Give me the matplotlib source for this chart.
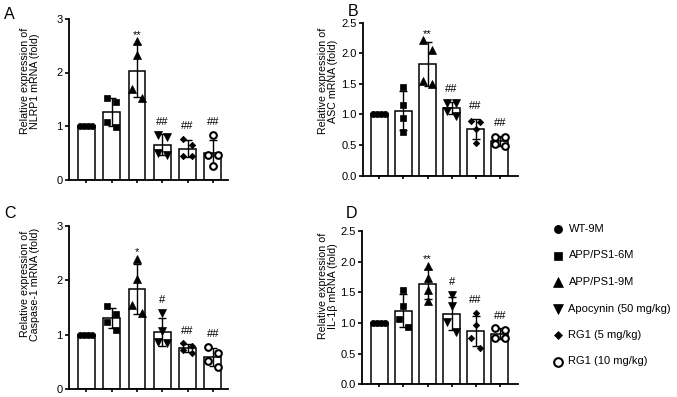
import numpy as np
import matplotlib
matplotlib.use("Agg")
import matplotlib.pyplot as plt
from matplotlib.lines import Line2D

plt.rcParams['font.family'] = ['Liberation Sans', 'DejaVu Sans']

# ---------------- data ----------------
groups = ["WT-9M", "APP/PS1-6M", "APP/PS1-9M", "Apocynin (50 mg/kg)",
          "RG1 (5 mg/kg)", "RG1 (10 mg/kg)"]

nlrp1 = [[1.0, 1.0, 1.0, 1.0],
         [1.52, 1.45, 1.08, 0.99],
         [2.58, 2.33, 1.70, 1.53],
         [0.83, 0.80, 0.50, 0.46],
         [0.76, 0.65, 0.44, 0.44],
         [0.83, 0.46, 0.45, 0.26]]
asc = [[1.0, 1.0, 1.0, 1.0],
       [1.45, 1.155, 0.94, 0.71],
       [2.21, 2.06, 1.54, 1.50],
       [1.19, 1.18, 1.06, 0.98],
       [0.89, 0.87, 0.77, 0.54],
       [0.64, 0.63, 0.52, 0.48]]
casp1 = [[1.0, 1.0, 1.0, 1.0],
         [1.52, 1.38, 1.24, 1.09],
         [2.39, 2.02, 1.55, 1.39],
         [1.40, 1.07, 0.86, 0.85],
         [0.84, 0.79, 0.72, 0.67],
         [0.78, 0.67, 0.51, 0.41]]
il1b = [[1.0, 1.0, 1.0, 1.0],
        [1.54, 1.27, 1.065, 0.93],
        [1.935, 1.73, 1.53, 1.36],
        [1.46, 1.28, 1.01, 0.86],
        [1.17, 0.96, 0.75, 0.60],
        [0.91, 0.89, 0.76, 0.75]]

sig_a = ["", "", "**", "##", "##", "##"]
sig_b = ["", "", "**", "##", "##", "##"]
sig_c = ["", "", "*", "#", "##", "##"]
sig_d = ["", "", "**", "#", "##", "##"]

ylabels = ["Relative expression of\nNLRP1 mRNA (fold)",
           "Relative expression of\nASC mRNA (fold)",
           "Relative expression of\nCaspase-1 mRNA (fold)",
           "Relative expression of\nIL-1\u03b2 mRNA (fold)"]
yticks_a = [0, 1, 2, 3]
yticks_b = [0.0, 0.5, 1.0, 1.5, 2.0, 2.5]
yticks_c = [0, 1, 2, 3]
yticks_d = [0.0, 0.5, 1.0, 1.5, 2.0, 2.5]
panel_letters = ["A", "B", "C", "D"]

# ---------------- styles ----------------
markers = [dict(marker='o', ms=4.5, mfc='black', mec='black', mew=0.5),
           dict(marker='s', ms=4.9, mfc='black', mec='black', mew=0.5),
           dict(marker='^', ms=5.3, mfc='black', mec='black', mew=0.5),
           dict(marker='v', ms=5.3, mfc='black', mec='black', mew=0.5),
           dict(marker='D', ms=3.3, mfc='black', mec='black', mew=0.5),
           dict(marker='o', ms=4.8, mfc='white', mec='black', mew=1.5)]

W, H = 677, 397
fig = plt.figure(figsize=(W / 100, H / 100), dpi=100)

FS = 8


def px_axes(left, right, top, bottom):
    return fig.add_axes([left / W, 1 - bottom / H, (right - left) / W, (bottom - top) / H])


def swarm_offsets(vals, ppu, thr=9.6, pair_px=4.7, row_px=4.0):
    vals = np.asarray(vals, float)
    n = len(vals)
    off = np.zeros(n)
    if (vals.max() - vals.min()) * ppu < 1.0:
        return (np.arange(n) - (n - 1) / 2) * row_px
    order = np.argsort(-vals, kind='stable')
    clusters = []
    cur = [order[0]]
    for prev, idx in zip(order[:-1], order[1:]):
        if (vals[prev] - vals[idx]) * ppu < thr:
            cur.append(idx)
        else:
            clusters.append(cur)
            cur = [idx]
    clusters.append(cur)
    for c in clusters:
        for k in range(0, len(c) - 1, 2):
            off[c[k]] = -pair_px
            off[c[k + 1]] = pair_px
    return off


def draw_panel(ax, data, sig, yticks, ymax, first_center_px, spacing_px, left_px, right_px,
               top_px, bottom_px):
    n = len(data)
    x = np.arange(n)
    xl = (left_px - first_center_px) / spacing_px
    xr = (right_px - first_center_px) / spacing_px
    ax.set_xlim(xl, xr)
    ax.set_ylim(0, ymax)
    ppu = (bottom_px - top_px) / ymax
    bar_w = 16.8 / spacing_px
    means = [np.mean(v) for v in data]
    sds = [np.std(v, ddof=1) for v in data]
    ax.bar(x, means, width=bar_w, color='white', edgecolor='black', linewidth=1.1, zorder=2)
    ax.errorbar(x, means, yerr=sds, fmt='none', ecolor='black', elinewidth=1.0,
                capsize=3.2, capthick=1.0, zorder=3)
    for i, vals in enumerate(data):
        off = swarm_offsets(vals, ppu) / spacing_px
        ax.plot(i + off, vals, ls='none', zorder=4, **markers[i])
        if sig[i]:
            top = max(means[i] + sds[i], max(vals))
            dy = 2.5 if '*' in sig[i] else 7.0
            ax.annotate(sig[i], (i, top), xytext=(0, dy), textcoords='offset points',
                        ha='center', va='baseline', fontsize=FS)
    for s in ['top', 'right']:
        ax.spines[s].set_visible(False)
    for s in ['left', 'bottom']:
        ax.spines[s].set_linewidth(1.3)
    ax.set_yticks(yticks)
    if isinstance(yticks[1], float):
        ax.set_yticklabels([f"{t:.1f}" for t in yticks])
    ax.set_xticks(x)
    ax.set_xticklabels([''] * n)
    ax.tick_params(axis='y', length=3, width=1.2, labelsize=FS, pad=1.5)
    ax.tick_params(axis='x', length=2.5, width=1.2)
    ax.patch.set_visible(False)


# Panel A
axA = px_axes(69, 228, 19, 179.5)
draw_panel(axA, nlrp1, sig_a, yticks_a, 3, 86.3, 25.3, 69, 228, 19, 179.5)
# Panel B
axB = px_axes(363, 518, 22.7, 175.7)
draw_panel(axB, asc, sig_b, yticks_b, 2.5, 379.3, 24.1, 363, 518, 22.7, 175.7)
# Panel C
axC = px_axes(69, 228, 225.7, 389.3)
draw_panel(axC, casp1, sig_c, yticks_c, 3, 86.3, 25.3, 69, 228, 225.7, 389.3)
# Panel D
axD = px_axes(362, 518, 231, 384.3)
draw_panel(axD, il1b, sig_d, yticks_d, 2.5, 379.3, 24.1, 362, 518, 231, 384.3)

# y labels
for lbl, (cx, cy) in zip(ylabels, [(30, 81), (328, 81), (30, 284), (328, 286)]):
    fig.text(cx / W, 1 - cy / H, lbl, rotation=90, ha='center', va='center',
             fontsize=7.7, linespacing=1.12, multialignment='center')

# panel letters
for let, (lx, ly) in zip(panel_letters, [(4, 19), (348, 16), (4, 218), (346, 218)]):
    fig.text(lx / W, 1 - ly / H, let, fontsize=11.5, ha='left', va='baseline')

# legend
for i, g in enumerate(groups):
    yy = 229 + 26.5 * i
    m = dict(markers[i])
    m['ms'] = m['ms'] * 1.3 if m['marker'] != 'D' else m['ms'] * 1.35
    fig.add_artist(Line2D([558.3 / W], [1 - yy / H], transform=fig.transFigure, ls='none', **m))
    fig.text(568.5 / W, 1 - yy / H, g, fontsize=FS, ha='left', va='center')

fig.savefig("out.png", dpi=100)
